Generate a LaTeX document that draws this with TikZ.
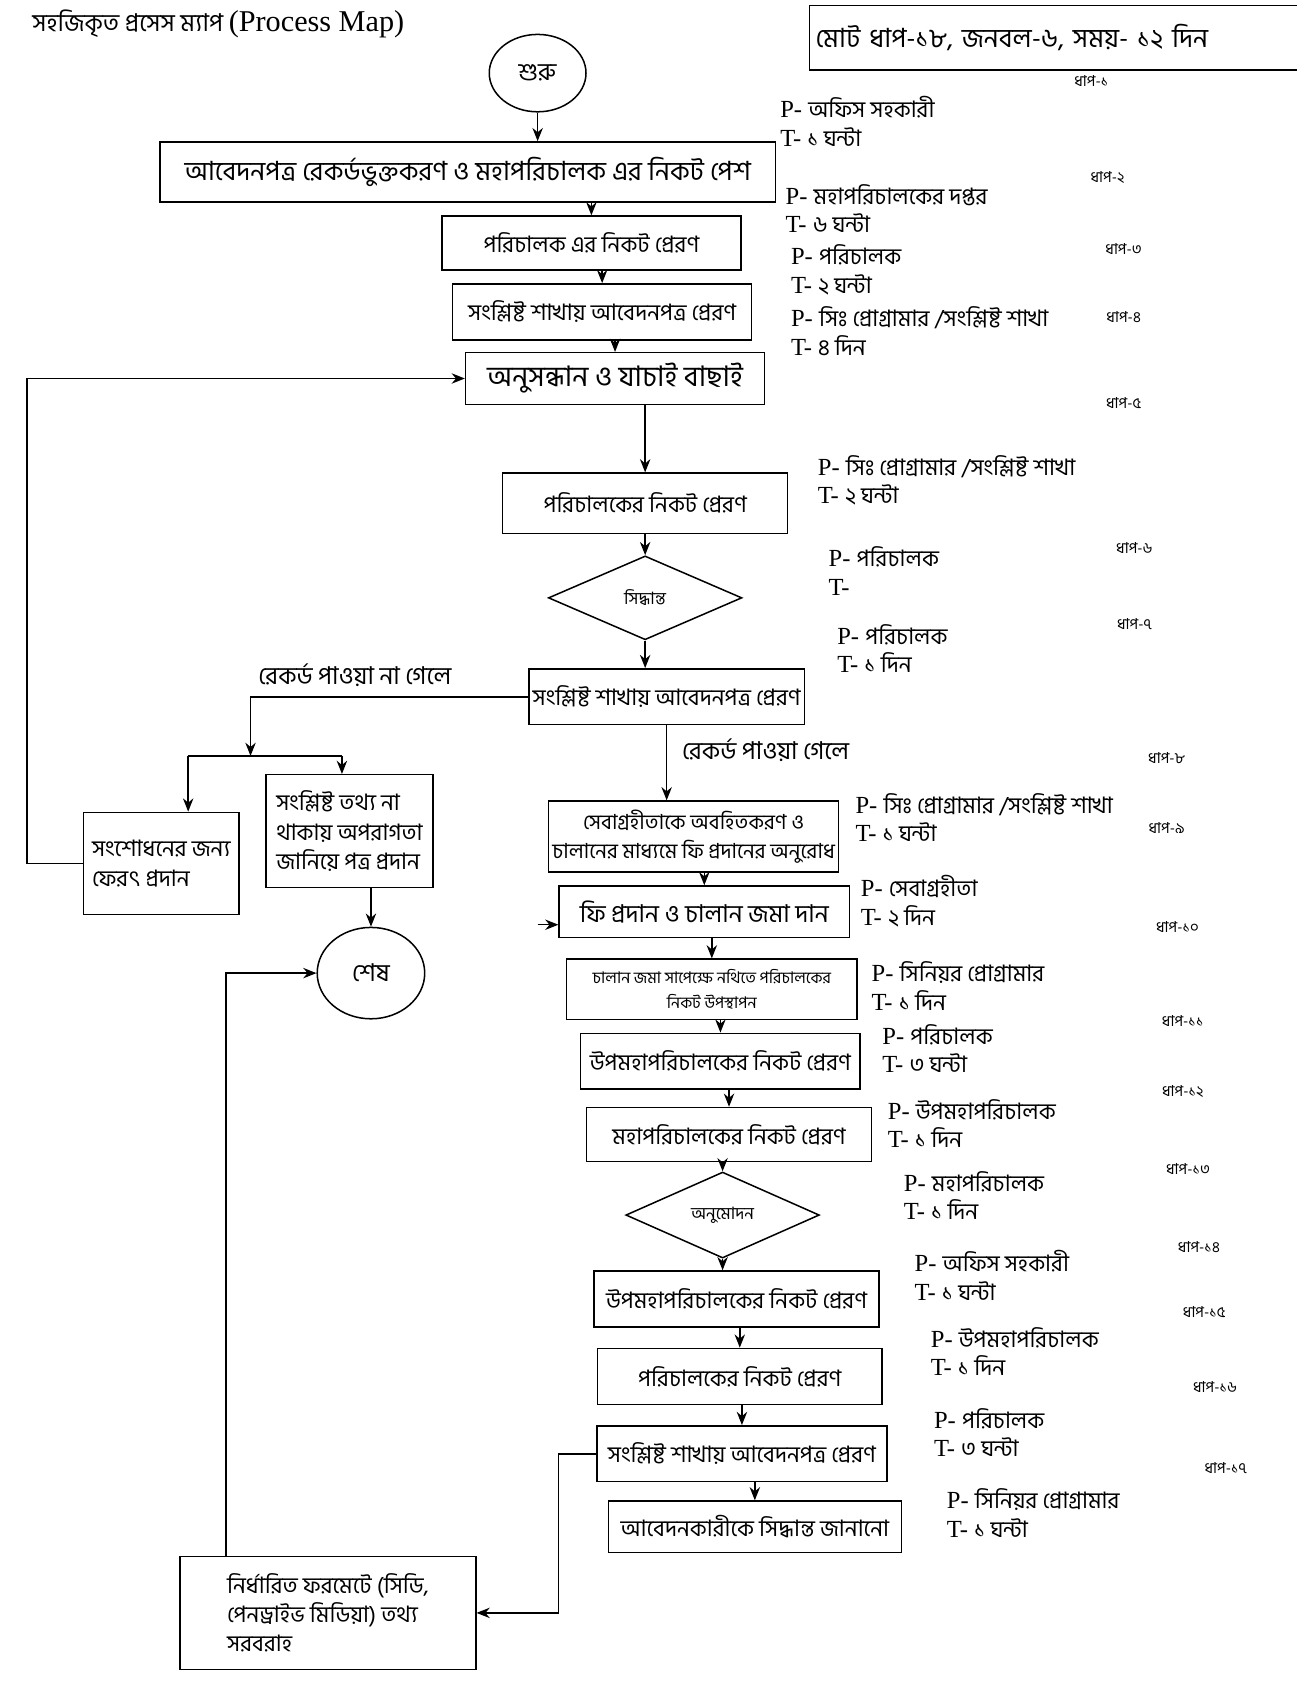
\documentclass[tikz,border=0pt]{standalone}
\usepackage{fontspec}
\setmainfont{Liberation Serif}
\newfontfamily\bn[Script=Bengali]{Hind Siliguri}
\usetikzlibrary{shapes.geometric,arrows.meta}

\tikzset{
  proc/.style={draw,rectangle,align=center,inner sep=2pt,
    minimum width=5.3cm,minimum height=1.04cm,font=\bn\fontsize{12}{15.5}\selectfont},
  decide/.style={draw,diamond,aspect=2.3,inner sep=0pt,
    minimum width=3.6cm,minimum height=1.56cm,font=\bn\fontsize{9}{10}\selectfont},
  term/.style={draw,ellipse,minimum width=1.8cm,minimum height=1.44cm,
    font=\bn\fontsize{13}{15}\selectfont},
  ptlbl/.style={anchor=west,align=left,inner sep=0pt,font=\fontsize{13}{15}\selectfont},
  steplbl/.style={font=\bn\fontsize{8}{9}\selectfont},
  edgelbl/.style={font=\bn\fontsize{13}{15}\selectfont}
}
\newcommand{\pandt}[2]{P- {\bn\fontsize{12}{15}\selectfont #1}\\T- {\bn\fontsize{12}{15}\selectfont #2}}

\begin{document}
\begin{tikzpicture}[x=0.02cm,y=-0.02cm,>={Stealth[length=7pt,width=5.5pt]},line width=0.8pt]
\useasboundingbox (0,0) rectangle (1206,1568);

% heading
\node[font=\bn\fontsize{13}{15}\selectfont] (title) at (203,22)
  {সহজিকৃত প্রসেস ম্যাপ {\rmfamily\fontsize{16}{18}\selectfont (Process Map)}};
\node[draw,anchor=west,minimum height=1.2cm,text width=9.6cm,align=left,
  font=\bn\fontsize{14}{16}\selectfont] (total) at (752,35) {মোট ধাপ-১৮, জনবল-৬, সময়- ১২ দিন};

% main column
\node[term] (start) at (500,68) {শুরু};
\node[proc,minimum width=11.45cm,minimum height=1.12cm,font=\bn\fontsize{14}{16}\selectfont] (b1) at (435,160)
  {আবেদনপত্র রেকর্ডভুক্তকরণ ও মহাপরিচালক এর নিকট পেশ};
\node[proc,minimum width=5.56cm,minimum height=1cm] (b2) at (550,226) {পরিচালক এর নিকট প্রেরণ};
\node[proc,minimum width=5.56cm] (b3) at (560,290) {সংশ্লিষ্ট শাখায় আবেদনপত্র প্রেরণ};
\node[proc,minimum width=5.56cm,minimum height=0.96cm,font=\bn\fontsize{15}{17}\selectfont] (b4) at (572,352)
  {অনুসন্ধান ও যাচাই বাছাই};
\node[proc,minimum height=1.12cm] (b5) at (600,468) {পরিচালকের নিকট প্রেরণ};
\node[decide] (d1) at (600,556) {সিদ্ধান্ত};
\node[proc,minimum width=5cm] (b6) at (620,648) {সংশ্লিষ্ট শাখায় আবেদনপত্র প্রেরণ};
\node[proc,minimum width=5.36cm,minimum height=1.32cm,font=\bn\fontsize{11}{15}\selectfont] (b7) at (645,778)
  {সেবাগ্রহীতাকে অবহিতকরণ ও\\চালানের মাধ্যমে ফি প্রদানের অনুরোধ};
\node[proc,minimum width=5.4cm,minimum height=0.96cm,font=\bn\fontsize{13}{15}\selectfont] (b8) at (655,848)
  {ফি প্রদান ও চালান জমা দান};
\node[proc,minimum width=5.4cm,minimum height=1.12cm,font=\bn\fontsize{8.5}{13}\selectfont] (b9) at (662,920)
  {চালান জমা সাপেক্ষে নথিতে পরিচালকের\\নিকট উপস্থাপন};
\node[proc,minimum width=5.2cm] (b10) at (670,987) {উপমহাপরিচালকের নিকট প্রেরণ};
\node[proc,minimum width=5.3cm,minimum height=1cm] (b11) at (678,1055) {মহাপরিচালকের নিকট প্রেরণ};
\node[decide,minimum height=1.6cm] (d2) at (672,1130) {অনুমোদন};
\node[proc] (b12) at (685,1208) {উপমহাপরিচালকের নিকট প্রেরণ};
\node[proc] (b13) at (688,1280) {পরিচালকের নিকট প্রেরণ};
\node[proc,minimum width=5.4cm] (b14) at (690,1352) {সংশ্লিষ্ট শাখায় আবেদনপত্র প্রেরণ};
\node[proc,minimum width=5.45cm,minimum height=0.96cm] (b15) at (702,1420) {আবেদনকারীকে সিদ্ধান্ত জানানো};

% side branch
\node[proc,minimum width=2.9cm,minimum height=1.9cm,align=left] (rb) at (150,803)
  {সংশোধনের জন্য\\ফেরৎ প্রদান};
\node[proc,minimum width=3.1cm,minimum height=2.1cm,align=left] (nb) at (325,773)
  {সংশ্লিষ্ট তথ্য না\\থাকায় অপরাগতা\\জানিয়ে পত্র প্রদান};
\node[term,minimum width=2cm,minimum height=1.7cm] (end) at (345,905) {শেষ};
\node[proc,minimum width=5.5cm,minimum height=2.1cm,align=left] (b16) at (305,1500)
  {নির্ধারিত ফরমেটে (সিডি,\\পেনড্রাইভ মিডিয়া) তথ্য\\সরবরাহ};

\node[edgelbl] (no) at (330,628) {রেকর্ড পাওয়া না গেলে};
\node[edgelbl] (yes) at (712,698) {রেকর্ড পাওয়া গেলে};

% person / time
\node[ptlbl] (p1) at (725,113) {\pandt{অফিস সহকারী}{১ ঘন্টা}};
\node[ptlbl] (p2) at (730,194) {\pandt{মহাপরিচালকের দপ্তর}{৬ ঘন্টা}};
\node[ptlbl] (p3) at (735,251) {\pandt{পরিচালক}{২ ঘন্টা}};
\node[ptlbl] (p4) at (735,308) {\pandt{সিঃ প্রোগ্রামার /সংশ্লিষ্ট শাখা}{৪ দিন}};
\node[ptlbl] (p5) at (760,447) {\pandt{সিঃ প্রোগ্রামার /সংশ্লিষ্ট শাখা}{২ ঘন্টা}};
\node[ptlbl] (p6) at (770,531) {\pandt{পরিচালক}{}};
\node[ptlbl] (p7) at (778,603) {\pandt{পরিচালক}{১ দিন}};
\node[ptlbl] (p8) at (795,760) {\pandt{সিঃ প্রোগ্রামার /সংশ্লিষ্ট শাখা}{১ ঘন্টা}};
\node[ptlbl] (p9) at (800,838) {\pandt{সেবাগ্রহীতা}{২ দিন}};
\node[ptlbl] (p10) at (810,917) {\pandt{সিনিয়র প্রোগ্রামার}{১ দিন}};
\node[ptlbl] (p11) at (820,975) {\pandt{পরিচালক}{৩ ঘন্টা}};
\node[ptlbl] (p12) at (825,1045) {\pandt{উপমহাপরিচালক}{১ দিন}};
\node[ptlbl] (p13) at (840,1112) {\pandt{মহাপরিচালক}{১ দিন}};
\node[ptlbl] (p14) at (850,1186) {\pandt{অফিস সহকারী}{১ ঘন্টা}};
\node[ptlbl] (p15) at (865,1257) {\pandt{উপমহাপরিচালক}{১ দিন}};
\node[ptlbl] (p16) at (868,1332) {\pandt{পরিচালক}{৩ ঘন্টা}};
\node[ptlbl] (p17) at (880,1407) {\pandt{সিনিয়র প্রোগ্রামার}{১ ঘন্টা}};

% step numbers
\foreach \i/\n/\x/\y in {1/১/1015/75,2/২/1030/165,3/৩/1045/232,4/৪/1045/295,
  5/৫/1045/375,6/৬/1055/510,7/৭/1055/580,8/৮/1085/705,9/৯/1085/770,
  10/১০/1095/862,11/১১/1100/950,12/১২/1100/1015,13/১৩/1105/1087,
  14/১৪/1115/1160,15/১৫/1120/1220,16/১৬/1130/1290,17/১৭/1140/1365}
  \node[steplbl] (s\i) at (\x,\y) {ধাপ-\n};

% arrows
\draw[->] (start.south) -- (start.south |- b1.north);
\foreach \a/\b in {b1/b2,b2/b3,b3/b4,b4/b5,b5/d1,b7/b8,b8/b9,
  b9/b10,b10/b11,b11/d2,b12/b13,b13/b14,b14/b15}
  \draw[->] (\b.north |- \a.south) -- (\b.north);
\foreach \a/\b in {d1/b6,b6/b7,d2/b12}
  \draw[->] (\a.south) -- (\a.south |- \b.north);

\coordinate (split) at (233,703);
\coordinate (splitl) at (175,703);
\coordinate (splitr) at (318,703);
\draw[->] (b6.west) -| (split);
\draw (splitl) -- (splitr);
\draw[->] (splitl) -- (splitl |- rb.north);
\draw[->] (splitr) -- (splitr |- nb.north);
\draw[->] (nb.south -| end.north) -- (end.north);

\coordinate (loopx) at (25,0);
\draw[->] (rb.west) -- (rb.west -| loopx) |- (b4.west);

\coordinate (fee) at (500,860);
\draw[->] (fee) -- (fee -| b8.west);

\coordinate (upx) at (210,0);
\draw[->] (b16.north -| upx) |- (end.west);
\draw[->] (b14.west) -- ++(-35,0) |- (b16.east);
\end{tikzpicture}
\end{document}
